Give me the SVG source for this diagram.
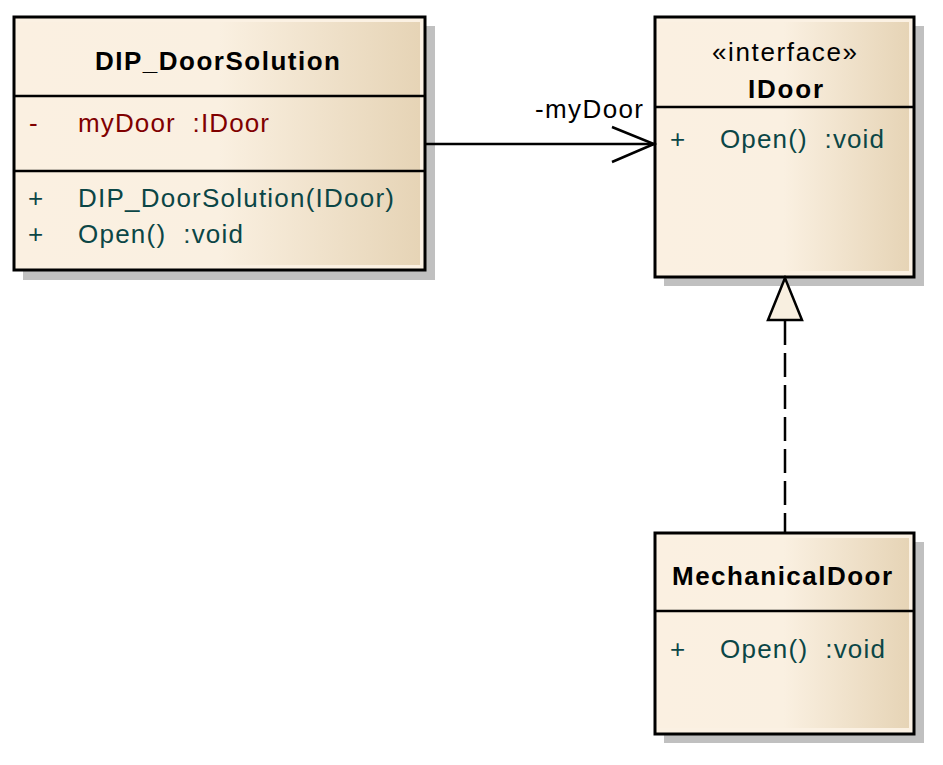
<svg xmlns="http://www.w3.org/2000/svg" width="943" height="765" viewBox="0 0 943 765">
<defs>
<linearGradient id="g" x1="0" y1="0" x2="1" y2="0">
<stop offset="0" stop-color="#fbf0e1"/>
<stop offset="0.5" stop-color="#faf0e1"/>
<stop offset="1" stop-color="#e6d4b6"/>
</linearGradient>
</defs>
<style>
text{font-family:"Liberation Sans",Arial,sans-serif;font-size:26px;white-space:pre}
.t{font-weight:bold;fill:#000}
.st{fill:#000}
.a{fill:#800000}
.o{fill:#0b4646}
.sh{fill:#c0c0c0}
.base{fill:#fbf1e3;stroke:none}
.in{fill:url(#g)}
.bd{fill:none;stroke:#000;stroke-width:3}
.dv{stroke:#000;stroke-width:2.5}
.ln{stroke:#000;stroke-width:2.5;fill:none}
</style>
<g id="DIP_DoorSolution">
<rect class="sh" x="23" y="26" width="412" height="254"/>
<rect class="base" x="14" y="17" width="411" height="253"/>
<rect class="in" x="17" y="22" width="403" height="243"/>
<rect class="bd" x="14" y="17" width="411" height="253"/>
<line class="dv" x1="14" y1="96" x2="425" y2="96"/>
<line class="dv" x1="14" y1="171" x2="425" y2="171"/>
<text class="t" x="95" y="70" textLength="245" lengthAdjust="spacing">DIP_DoorSolution</text>
<text class="a" x="29" y="132">-</text>
<text class="a" x="78" y="132" textLength="191" lengthAdjust="spacing">myDoor  :IDoor</text>
<text class="o" x="28" y="207">+</text>
<text class="o" x="78" y="207" textLength="316" lengthAdjust="spacing">DIP_DoorSolution(IDoor)</text>
<text class="o" x="28" y="243">+</text>
<text class="o" x="78" y="243" textLength="165" lengthAdjust="spacing">Open()  :void</text>
</g>
<g id="IDoor">
<rect class="sh" x="664" y="26" width="260" height="260"/>
<rect class="base" x="655" y="17" width="259" height="260"/>
<rect class="in" x="658" y="22" width="251" height="249"/>
<rect class="bd" x="655" y="17" width="259" height="260"/>
<line class="dv" x1="655" y1="107" x2="914" y2="107"/>
<text class="st" x="712" y="61" textLength="145" lengthAdjust="spacing">«interface»</text>
<text class="t" x="748" y="98" textLength="75" lengthAdjust="spacing">IDoor</text>
<text class="o" x="670" y="148">+</text>
<text class="o" x="720" y="148" textLength="164" lengthAdjust="spacing">Open()  :void</text>
</g>
<g id="MechanicalDoor">
<rect class="sh" x="664" y="542" width="260" height="201"/>
<rect class="base" x="655" y="533" width="259" height="201"/>
<rect class="in" x="658" y="538" width="251" height="190"/>
<rect class="bd" x="655" y="533" width="259" height="201"/>
<line class="dv" x1="655" y1="611" x2="914" y2="611"/>
<text class="t" x="672" y="585" textLength="220" lengthAdjust="spacing">MechanicalDoor</text>
<text class="o" x="670" y="658">+</text>
<text class="o" x="720" y="658" textLength="165" lengthAdjust="spacing">Open()  :void</text>
</g>
<g id="connectors">
<line class="ln" x1="425" y1="144" x2="654" y2="144"/>
<polyline class="ln" points="612,127 654,144 612,162"/>
<text class="st" x="535" y="118" textLength="108" lengthAdjust="spacing">-myDoor</text>
<line class="ln" x1="785" y1="321" x2="785" y2="533" stroke-dasharray="24 8"/>
<polygon points="785,278 768,320 802,320" fill="#f8efe0" stroke="#000" stroke-width="2.5" stroke-linejoin="miter"/>
</g>
</svg>
